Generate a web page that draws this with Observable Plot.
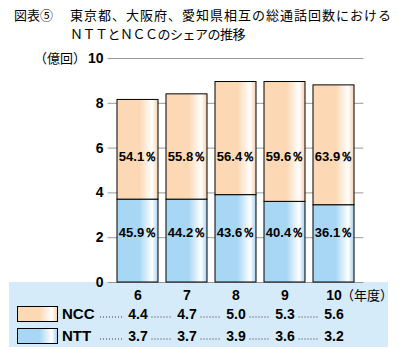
<!DOCTYPE html>
<html><head><meta charset="utf-8">
<script src="https://cdn.jsdelivr.net/npm/d3@7"></script>
<script src="https://cdn.jsdelivr.net/npm/@observablehq/plot@0.6"></script>
<style>
body{margin:0;background:#fff;}
#wrap{position:relative;width:399px;height:357px;overflow:hidden;}
#band{position:absolute;left:9px;top:282px;width:379px;height:65px;background:#D6EBF9;}
#title{position:absolute;left:14px;top:5px;font-family:"Noto Sans CJK JP";font-size:13px;line-height:19px;color:#000;white-space:nowrap;}
#title .l1{letter-spacing:1px;}
#title .lead{display:inline-block;width:56px;letter-spacing:0;}
#title .l2{padding-left:56px;letter-spacing:-0.5px;}
#chart{position:absolute;left:0;top:0;}
</style></head>
<body>
<div id="wrap">
  <div id="band"></div>
  <div id="chart"></div>
  <div id="title"><div class="l1"><span class="lead">図表⑤</span>東京都、大阪府、愛知県相互の総通話回数における</div><div class="l2">ＮＴＴとＮＣＣのシェアの推移</div></div>
</div>
<script>
const years = ["6","7","8","9","10"];
const nttBar = [3.7, 3.7, 3.9, 3.6, 3.45];
const nccBar = [4.45, 4.7, 5.05, 5.35, 5.35];
const nccShare = ["54.1","55.8","56.4","59.6","63.9"];
const nttShare = ["45.9","44.2","43.6","40.4","36.1"];
const nccTable = ["4.4","4.7","5.0","5.3","5.6"];
const nttTable = ["3.7","3.7","3.9","3.6","3.2"];
const yTicks = [0, 2, 4, 6, 8, 10];
const series = ["NCC", "NTT"];

const numFont = "Liberation Sans, Arial, sans-serif";
const jpFont = "Noto Sans CJK JP, sans-serif";

const chart = Plot.plot({
  width: 399,
  height: 357,
  marginLeft: 107.6,
  marginRight: 35.6,
  marginTop: 58,
  marginBottom: 75,
  x: {domain: years, padding: 0.17, axis: null},
  y: {domain: [0, 10], axis: null},
  style: {background: "transparent", overflow: "visible", fontFamily: numFont},
  marks: [
    Plot.ruleY(yTicks, {y: d => d, stroke: "#999", strokeWidth: 1}),
    Plot.barY(years, {x: d => d, y1: 0, y2: (d, i) => nttBar[i], fill: "url(#gNTT)", stroke: "#000", strokeWidth: 1}),
    Plot.barY(years, {x: d => d, y1: (d, i) => nttBar[i], y2: (d, i) => nttBar[i] + nccBar[i], fill: "url(#gNCC)", stroke: "#000", strokeWidth: 1}),
    Plot.text(years, {x: d => d, y: 5.6, text: (d, i) => nccShare[i] + "％", fontSize: 13, fontWeight: "bold", fill: "#000"}),
    Plot.text(years, {x: d => d, y: 2.2, text: (d, i) => nttShare[i] + "％", fontSize: 13, fontWeight: "bold", fill: "#000"}),
    Plot.text(yTicks, {y: d => d, text: d => String(d), frameAnchor: "left", dx: -4.6, textAnchor: "end", lineAnchor: "middle", fontSize: 14, fontWeight: "bold", fill: "#000"}),
    Plot.text(["（億回）"], {y: () => 10, text: d => d, frameAnchor: "left", dx: -22, textAnchor: "end", lineAnchor: "middle", fontSize: 13, fontFamily: jpFont, fill: "#000"}),
    Plot.text(years, {x: d => d, frameAnchor: "bottom", lineAnchor: "middle", dy: 13, text: d => d, fontSize: 14, fontWeight: "bold", fill: "#000"}),
    Plot.text(["（年度）"], {x: () => "10", frameAnchor: "bottom", lineAnchor: "middle", dy: 13, dx: 7, textAnchor: "start", text: d => d, fontSize: 13, fontFamily: jpFont, fill: "#000"}),
    Plot.text(years, {x: d => d, frameAnchor: "bottom", lineAnchor: "middle", dy: 32, text: (d, i) => nccTable[i], fontSize: 14, fontWeight: "bold", fill: "#000"}),
    Plot.text(years, {x: d => d, frameAnchor: "bottom", lineAnchor: "middle", dy: 54, text: (d, i) => nttTable[i], fontSize: 14, fontWeight: "bold", fill: "#000"})
  ]
});

document.getElementById("chart").appendChild(chart);

const svg = d3.select(chart);
const defs = svg.insert("defs", ":first-child");
function grad(id, base, edge) {
  const g = defs.append("linearGradient").attr("id", id).attr("x1", "0").attr("x2", "1").attr("y1", "0").attr("y2", "0");
  g.append("stop").attr("offset", "0").attr("stop-color", base);
  g.append("stop").attr("offset", "0.55").attr("stop-color", base);
  g.append("stop").attr("offset", "0.86").attr("stop-color", "#FFFFFF");
  g.append("stop").attr("offset", "1").attr("stop-color", edge);
}
grad("gNCC", "#FCD8B4", "#F8CFA8");
grad("gNTT", "#A8D7F5", "#A2D1F1");

// legend and leader dots for the table
const xs = chart.scale("x");
const cx = v => xs.apply(v) + xs.bandwidth / 2;
const bottom = 357 - 75;
const rows = [
  {name: series[0], fill: "url(#gNCC)", cy: bottom + 32},
  {name: series[1], fill: "url(#gNTT)", cy: bottom + 54}
];
const g = svg.append("g").attr("text-anchor", "start");
rows.forEach(r => {
  g.append("rect").attr("x", 17.5).attr("y", r.cy - 7.5).attr("width", 40).attr("height", 15)
    .attr("fill", r.fill).attr("stroke", "#000").attr("stroke-width", 1);
  g.append("text").attr("x", 62).attr("y", r.cy).attr("dy", "0.35em").attr("text-anchor", "start")
    .attr("font-family", numFont).attr("font-size", 15).attr("font-weight", "bold").text(r.name);
  const segs = [[100, cx(years[0]) - 14]];
  for (let i = 1; i < years.length; i++) segs.push([cx(years[i - 1]) + 14, cx(years[i]) - 14]);
  segs.forEach(([a, b]) => {
    g.append("line").attr("x1", a).attr("x2", b).attr("y1", r.cy + 3).attr("y2", r.cy + 3)
      .attr("stroke", "#333").attr("stroke-width", 1).attr("stroke-dasharray", "1 2");
  });
});
</script>
</body></html>
